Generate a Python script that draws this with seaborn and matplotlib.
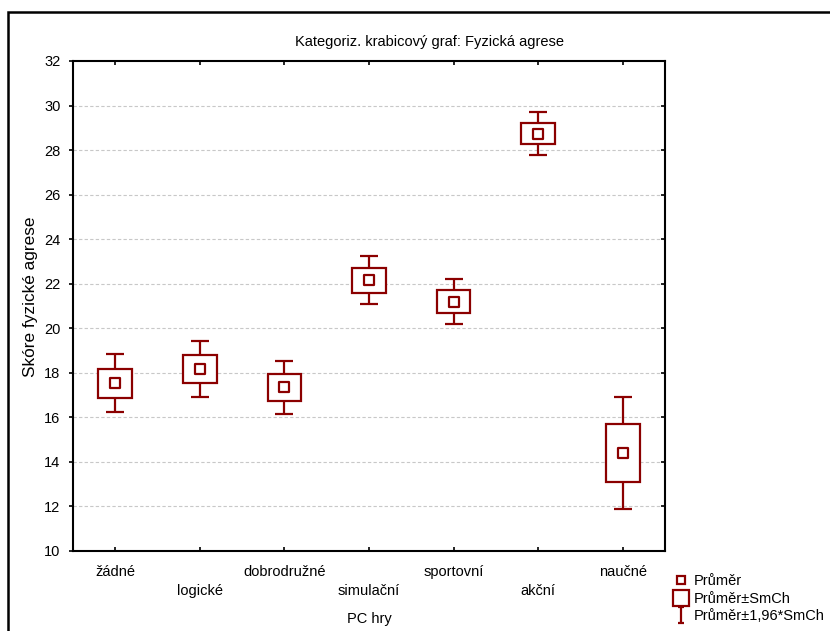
import numpy as np
import pandas as pd
import matplotlib
matplotlib.use("Agg")
import matplotlib.pyplot as plt
from matplotlib.lines import Line2D, TICKLEFT
from matplotlib.path import Path
from matplotlib.patches import Rectangle
import seaborn as sns

# Group means and standard errors of the physical aggression score
categories = ["žádné", "logické", "dobrodružné", "simulační", "sportovní", "akční", "naučné"]
means = [17.53, 18.17, 17.35, 22.16, 21.20, 28.74, 14.40]
std_errs = [0.66, 0.635, 0.61, 0.555, 0.52, 0.485, 1.28]
y_ticks = [10, 12, 14, 16, 18, 20, 22, 24, 26, 28, 30, 32]

title = "Kategoriz. krabicový graf: Fyzická agrese"
x_title = "PC hry"
y_title = "Skóre fyzické agrese"
legend_labels = ["Průměr", "Průměr±SmCh", "Průměr±1,96*SmCh"]

sns.set_theme(style="white")
plt.rcParams["font.family"] = ["Liberation Sans", "DejaVu Sans"]
FS = 10.5

RED = "#8b0000"
LW = 1.6

df = pd.DataFrame({"kategorie": categories, "prumer": means, "smch": std_errs})
df["pos"] = np.arange(len(df))
df["lo1"] = df["prumer"] - df["smch"]
df["ci"] = 1.96 * df["smch"]

fig = plt.figure(figsize=(8.3, 6.31), dpi=100)
ax = fig.add_axes([73 / 830, 1 - 551 / 631, (665 - 73) / 830, (551 - 61) / 631])

# whiskers: mean ± 1.96 SE
ax.errorbar(df["pos"], df["prumer"], yerr=df["ci"], fmt="none", ecolor=RED,
            elinewidth=LW, capsize=6.5, capthick=LW, zorder=2)
# boxes: mean ± SE
ax.bar(df["pos"], 2 * df["smch"], bottom=df["lo1"], width=0.40, facecolor="white",
       edgecolor=RED, linewidth=LW, zorder=3)
# mean markers
sns.scatterplot(data=df, x="pos", y="prumer", marker="s", s=42, facecolor="white",
                edgecolor=RED, linewidth=LW, ax=ax, zorder=4, legend=False)

ax.set_xlim(-0.5, len(categories) - 0.5)
ax.set_ylim(10, 32)
ax.set_yticks(y_ticks)
ax.set_yticklabels([str(t) for t in y_ticks])
ax.set_xticks(df["pos"])
xlabels = ax.set_xticklabels([c if i % 2 == 0 else "\n" + c for i, c in enumerate(categories)])
for lab in xlabels:
    lab.set_linespacing(1.45)

for y in y_ticks[1:-1]:
    ax.axhline(y, color="#c8c8c8", linestyle=(0, (3, 2)), linewidth=0.8, zorder=0)

for s in ax.spines.values():
    s.set_color("black")
    s.set_linewidth(1.5)

ax.tick_params(axis="y", which="both", left=True, right=True, direction="out",
               length=3, width=1.2, color="black", pad=6, labelsize=FS, labelcolor="black")
ax.tick_params(axis="x", which="both", bottom=True, top=True, direction="in",
               length=3, width=1.2, color="black", pad=10, labelsize=FS,
               labelcolor="black")
# inward ticks on the right spine
for t in ax.yaxis.get_major_ticks():
    t.tick2line.set_marker(TICKLEFT)

fig.text(429 / 830, 1 - 42 / 631, title, fontsize=FS, ha="center", va="center", color="black")
ax.set_xlabel(x_title, fontsize=FS, labelpad=10, color="black")
ax.set_ylabel("")
fig.text(30 / 830, 1 - 297 / 631, y_title, fontsize=12.4, rotation=90,
         ha="center", va="center", color="black")

# legend
ibeam = Path([(-0.45, 1), (0.45, 1), (0, 1), (0, -1), (-0.45, -1), (0.45, -1)],
             [Path.MOVETO, Path.LINETO, Path.MOVETO, Path.LINETO, Path.MOVETO, Path.LINETO])
handles = [
    Line2D([], [], linestyle="none", marker="s", markersize=6, markerfacecolor="white",
           markeredgecolor=RED, markeredgewidth=LW),
    Line2D([], [], linestyle="none", marker="s", markersize=11, markerfacecolor="white",
           markeredgecolor=RED, markeredgewidth=LW),
    Line2D([], [], linestyle="none", marker=ibeam, markersize=11, markerfacecolor="none",
           markeredgecolor=RED, markeredgewidth=LW),
]
leg = fig.legend(handles, legend_labels, loc="upper left",
                 bbox_to_anchor=(674 / 830, 1 - 574 / 631),
                 frameon=False, fontsize=FS, handlelength=1.0, handletextpad=0.35,
                 labelspacing=0.25, borderpad=0, borderaxespad=0)
for txt in leg.get_texts():
    txt.set_color("black")

# outer frame of the graph window
fig.patches.append(Rectangle((8 / 830, -0.2), 1.5, 1.2 - 12 / 631,
                             transform=fig.transFigure, fill=False,
                             edgecolor="black", linewidth=1.8))

fig.savefig("out.png", dpi=100)
